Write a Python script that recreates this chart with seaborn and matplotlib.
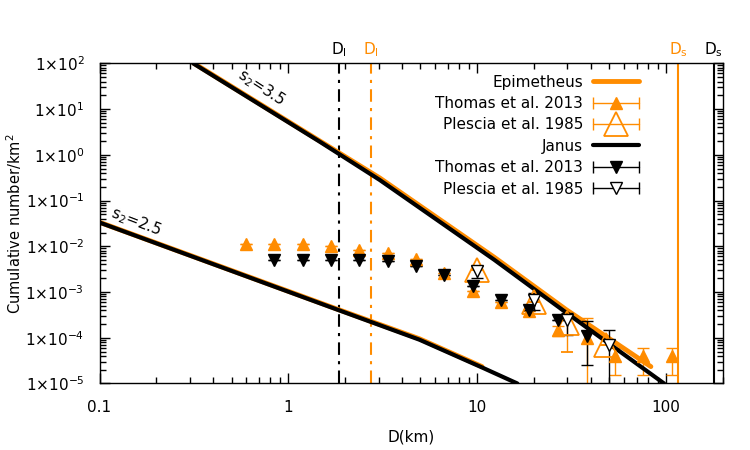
import numpy as np
import matplotlib
matplotlib.use("Agg")
import matplotlib.pyplot as plt
import matplotlib.transforms as mtransforms
from matplotlib.lines import Line2D
from matplotlib.legend_handler import HandlerLine2D
from matplotlib.ticker import LogLocator, NullFormatter
import seaborn as sns

orange = "#ff8c00"

# model curves (D in km, cumulative N per km^2)
epi_s35_d = [0.316, 3.04, 12.3, 29.6, 83.0]
epi_s35_n = [100, 0.313, 5.75e-3, 4.1e-4, 2.34e-5]
jan_s35_d = [0.313, 1.464, 3.04, 12.3, 29.6, 97.5]
jan_s35_n = [100, 1.94, 0.283, 5.07e-3, 3.53e-4, 1e-5]
epi_s25_d = [0.1, 1.82, 4.94, 10.6]
epi_s25_n = [0.0335, 4.2e-4, 9.5e-5, 2.34e-5]
jan_s25_d = [0.1, 1.82, 4.94, 10.6, 16.3]
jan_s25_n = [0.0331, 4.1e-4, 9.07e-5, 2.24e-5, 1e-5]

# Epimetheus, Thomas et al. 2013
epi_t_d = [0.593, 0.838, 1.19, 1.68, 2.37, 3.35, 4.74, 6.7, 9.5, 13.4, 18.9, 26.8, 37.9, 53.6, 75.8, 107]
epi_t_n = [1.13e-2, 1.13e-2, 1.13e-2, 9.9e-3, 8.4e-3, 7.1e-3, 5.3e-3, 2.6e-3, 1.03e-3, 5.9e-4, 3.8e-4, 1.5e-4, 9.9e-5, 3.9e-5, 3.9e-5, 3.9e-5]
epi_t_lo = [1.13e-2, 1.13e-2, 1.13e-2, 9.9e-3, 8.4e-3, 7.1e-3, 5.3e-3, 2.6e-3, 1.03e-3, 5.9e-4, 3.8e-4, 1.07e-4, 1e-6, 1.56e-5, 1.56e-5, 1.56e-5]
epi_t_hi = [1.13e-2, 1.13e-2, 1.13e-2, 9.9e-3, 8.4e-3, 7.1e-3, 5.3e-3, 2.6e-3, 1.03e-3, 5.9e-4, 3.8e-4, 1.84e-4, 2.75e-4, 6.0e-5, 6.0e-5, 6.0e-5]

# Epimetheus, Plescia et al. 1985
epi_p_d = [10, 20, 30, 48]
epi_p_n = [3.07e-3, 6.0e-4, 2.1e-4, 7.0e-5]
epi_p_lo = [3.07e-3, 6.0e-4, 4.8e-5, 7.0e-5]
epi_p_hi = [3.07e-3, 6.0e-4, 2.75e-4, 7.0e-5]

# Janus, Thomas et al. 2013
jan_t_d = [0.838, 1.19, 1.68, 2.37, 3.35, 4.74, 6.7, 9.5, 13.4, 18.9, 26.8, 37.9]
jan_t_n = [4.9e-3, 4.9e-3, 4.9e-3, 4.9e-3, 4.66e-3, 3.62e-3, 2.39e-3, 1.33e-3, 6.8e-4, 4.1e-4, 2.5e-4, 1.07e-4]
jan_t_lo = [4.9e-3, 4.9e-3, 4.9e-3, 4.9e-3, 4.66e-3, 3.62e-3, 2.39e-3, 1.33e-3, 6.8e-4, 4.1e-4, 2.5e-4, 2.6e-5]
jan_t_hi = [4.9e-3, 4.9e-3, 4.9e-3, 4.9e-3, 4.66e-3, 3.62e-3, 2.39e-3, 1.33e-3, 6.8e-4, 4.1e-4, 2.5e-4, 2.28e-4]

# Janus, Plescia et al. 1985
jan_p_d = [10, 20, 30, 50]
jan_p_n = [2.82e-3, 6.8e-4, 2.48e-4, 7.1e-5]
jan_p_lo = [2.05e-3, 4.1e-4, 1.17e-4, 1e-6]
jan_p_hi = [3.62e-3, 9.5e-4, 3.48e-4, 1.5e-4]

dl_janus, dl_epi = 1.85, 2.73
ds_epi, ds_janus = 116, 179


def yerr(n, lo, hi):
    n = np.array(n)
    return [n - np.array(lo), np.array(hi) - n]


class CapLine(Line2D):
    pass


sns.set_style("ticks", {"axes.edgecolor": "black", "xtick.color": "black",
                        "ytick.color": "black", "text.color": "black",
                        "axes.labelcolor": "black"})
plt.rcParams["font.family"] = ["DejaVu Sans"]
plt.rcParams["mathtext.fontset"] = "dejavusans"

fig = plt.figure(figsize=(7.5, 4.5), dpi=100)
ax = fig.add_axes([0.1327, 0.1478, 0.8313, 0.7115])
ax.set_xscale("log")
ax.set_yscale("log")

dashdot = (0, (6, 3, 1.5, 3))
ax.axvline(dl_janus, color="black", lw=1.5, ls=dashdot)
ax.axvline(dl_epi, color=orange, lw=1.5, ls=dashdot)
ax.axvline(ds_epi, color=orange, lw=1.5)
ax.axvline(ds_janus, color="black", lw=1.5)

sns.lineplot(x=epi_s35_d, y=epi_s35_n, ax=ax, color=orange, lw=3.5, sort=False, estimator=None)
sns.lineplot(x=epi_s25_d, y=epi_s25_n, ax=ax, color=orange, lw=3.5, sort=False, estimator=None)

ax.errorbar(epi_t_d, epi_t_n, yerr=yerr(epi_t_n, epi_t_lo, epi_t_hi), fmt="^", color=orange,
            ms=8, capsize=4, elinewidth=1, capthick=1)
ax.errorbar(epi_p_d, epi_p_n, yerr=yerr(epi_p_n, epi_p_lo, epi_p_hi), fmt="^", color=orange,
            mfc="none", mec=orange, mew=1.3, ms=17, capsize=4, elinewidth=1, capthick=1)

sns.lineplot(x=jan_s35_d, y=jan_s35_n, ax=ax, color="black", lw=3, sort=False, estimator=None)
sns.lineplot(x=jan_s25_d, y=jan_s25_n, ax=ax, color="black", lw=3, sort=False, estimator=None)

ax.errorbar(jan_t_d, jan_t_n, yerr=yerr(jan_t_n, jan_t_lo, jan_t_hi), fmt="v", color="black",
            ms=8, capsize=4, elinewidth=1, capthick=1)
ax.errorbar(jan_p_d, jan_p_n, yerr=yerr(jan_p_n, jan_p_lo, jan_p_hi), fmt="v", color="black",
            mfc="white", mec="black", mew=1, ms=8, capsize=4, elinewidth=1, capthick=1)

ax.set_xlim(0.1, 200)
ax.set_ylim(1e-5, 100)

ax.text(0.723, 28.9, "s$_2$=3.5", rotation=-33, rotation_mode="anchor",
        ha="center", va="center", fontsize=11)
ax.text(0.156, 0.0343, "s$_2$=2.5", rotation=-21, rotation_mode="anchor",
        ha="center", va="center", fontsize=11)

trans = mtransforms.blended_transform_factory(ax.transData, ax.transAxes)
ax.text(dl_janus, 1.012, r"D$_\mathrm{l}$", transform=trans, ha="center", va="bottom", fontsize=11)
ax.text(dl_epi, 1.012, r"D$_\mathrm{l}$", transform=trans, ha="center", va="bottom", fontsize=11, color=orange)
ax.text(ds_epi, 1.012, r"D$_\mathrm{s}$", transform=trans, ha="center", va="bottom", fontsize=11, color=orange)
ax.text(ds_janus, 1.012, r"D$_\mathrm{s}$", transform=trans, ha="center", va="bottom", fontsize=11)

ax.set_xticks([0.1, 1, 10, 100])
ax.set_xticklabels(["0.1", "1", "10", "100"])
yt = [10.0 ** k for k in range(-5, 3)]
ax.set_yticks(yt)
ax.set_yticklabels([r"$1{\times}10^{%d}$" % k for k in range(-5, 3)])
ax.xaxis.set_minor_locator(LogLocator(base=10, subs=np.arange(2, 10), numticks=100))
ax.yaxis.set_minor_locator(LogLocator(base=10, subs=np.arange(2, 10), numticks=100))
ax.xaxis.set_minor_formatter(NullFormatter())
ax.yaxis.set_minor_formatter(NullFormatter())
ax.tick_params(which="both", direction="in", top=True, right=True, labelsize=11)
ax.tick_params(which="major", length=7, width=1)
ax.tick_params(which="minor", length=4, width=1)
ax.tick_params(axis="x", pad=12)
ax.tick_params(axis="y", pad=11)
for s in ax.spines.values():
    s.set_linewidth(1)
    s.set_color("black")

ax.set_xlabel("D(km)", fontsize=11, labelpad=10)
ax.set_ylabel("Cumulative number/km$^2$", fontsize=10.5)
ax.yaxis.set_label_coords(-0.121, 0.5)


def cap(c):
    return CapLine([], [], color=c, lw=1, marker="|", ms=9, mew=1)


handles = [
    Line2D([], [], color=orange, lw=3.5),
    (cap(orange), Line2D([], [], ls="none", marker="^", color=orange, ms=8)),
    (cap(orange), Line2D([], [], ls="none", marker="^", mfc="none", mec=orange, mew=1.3, ms=17)),
    Line2D([], [], color="black", lw=3),
    (cap("black"), Line2D([], [], ls="none", marker="v", color="black", ms=8)),
    (cap("black"), Line2D([], [], ls="none", marker="v", mfc="white", mec="black", mew=1, ms=8)),
]
labels = ["Epimetheus", "Thomas et al. 2013", "Plescia et al. 1985",
          "Janus", "Thomas et al. 2013", "Plescia et al. 1985"]
ax.legend(handles, labels, handler_map={CapLine: HandlerLine2D(marker_pad=0, numpoints=2)},
          loc="upper right", bbox_to_anchor=(0.865, 0.965), frameon=False, markerfirst=False,
          handlelength=3.0, handletextpad=0.65, labelspacing=0.42, borderpad=0,
          borderaxespad=0, fontsize=11)

fig.savefig("out.png", dpi=100)
